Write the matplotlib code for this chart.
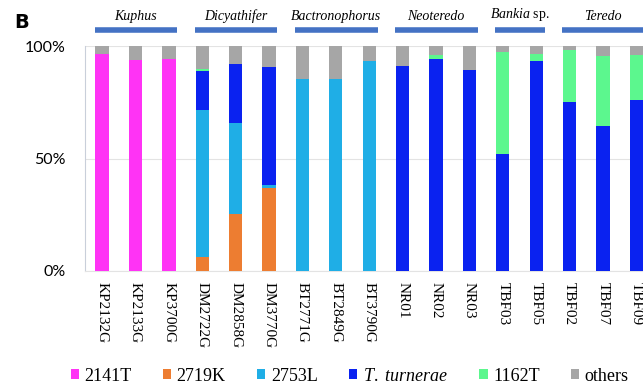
import numpy as np
import matplotlib
matplotlib.use("Agg")
import matplotlib.pyplot as plt
from matplotlib.patches import Patch

plt.rcParams["mathtext.fontset"] = "custom"
plt.rcParams["mathtext.rm"] = "Liberation Serif"
plt.rcParams["mathtext.it"] = "Liberation Serif:italic"

# Samples (x axis)
samples = ["KP2132G", "KP2133G", "KP3700G", "DM2722G", "DM2858G", "DM3770G",
           "BT2771G", "BT2849G", "BT3790G", "NR01", "NR02", "NR03",
           "TBF03", "TBF05", "TBF02", "TBF07", "TBF09"]

# Percent composition per sample
s2141T = [96.7, 93.8, 94.5, 0, 0, 0, 0, 0, 0, 0, 0, 0, 0, 0, 0, 0, 0]
s2719K = [0, 0, 0, 6.4, 25.3, 36.7, 0, 0, 0, 0, 0, 0, 0, 0, 0, 0, 0]
s2753L = [0, 0, 0, 65.2, 40.6, 1.5, 85.2, 85.2, 93.5, 0, 0, 0, 0, 0, 0, 0, 0]
turnerae = [0, 0, 0, 17.3, 26.0, 52.6, 0, 0, 0, 91.1, 94.1, 89.3, 52.0, 93.3, 75.0, 64.6, 76.0]
s1162T = [0, 0, 0, 1.0, 0, 0, 0, 0, 0, 0, 1.9, 0, 45.5, 3.4, 23.5, 30.9, 20.0]
others = [3.3, 6.2, 5.5, 10.1, 8.1, 9.2, 14.8, 14.8, 6.5, 8.9, 4.0, 10.7, 2.5, 3.3, 1.5, 4.5, 4.0]

series = [s2141T, s2719K, s2753L, turnerae, s1162T, others]
series_labels = ["2141T", "2719K", "2753L", r"$\mathit{T.\ turnerae}$", "1162T", "others"]
colors = ["#FF33F5", "#ED7D31", "#1FAEE6", "#0A22F0", "#5CF78E", "#A6A6A6"]

# Host genus groups: (label, first sample, last sample)
groups = [("Kuphus", 0, 2), ("Dicyathifer", 3, 5), ("Bactronophorus", 6, 8),
          ("Neoteredo", 9, 11), (r"$\mathit{Bankia}$ sp.", 12, 13), ("Teredo", 14, 16)]

fig = plt.figure(figsize=(6.43, 3.91), dpi=100)
ax = fig.add_axes([0.1327, 0.307, 0.883, 0.575])

x = np.arange(len(samples))
bottom = np.zeros(len(samples))
for vals, col, lab in zip(series, colors, series_labels):
    ax.bar(x, vals, width=0.4, bottom=bottom, color=col, label=lab, zorder=3)
    bottom += np.array(vals)

ax.set_xlim(-0.5, len(samples) - 0.5)
ax.set_ylim(0, 100)
ax.set_yticks([0, 50, 100])
ax.set_yticklabels(["0%", "50%", "100%"], fontsize=11.5, family="Lato")
ax.tick_params(axis="y", length=0, pad=14)
ax.set_xticks(x)
ax.set_xticklabels(samples, rotation=-90, fontsize=11, family="Liberation Serif")
ax.tick_params(axis="x", length=0, pad=8)

ax.grid(axis="y", color="#E3E3E3", linewidth=0.8, zorder=0)
for side in ["top", "right"]:
    ax.spines[side].set_visible(False)
ax.spines["left"].set_color("#C9CFDA")
ax.spines["bottom"].set_color("#E3E3E3")
ax.spines["left"].set_linewidth(0.8)

# Group brackets and names above the bars
for name, i0, i1 in groups:
    ax.plot([i0 - 0.22, i1 + 0.25], [107.1, 107.1], color="#4472C4", linewidth=4,
            solid_capstyle="butt", clip_on=False)
    style = "normal" if "$" in name else "italic"
    ax.text((i0 + i1) / 2, 110.5, name, ha="center", va="bottom", fontsize=10,
            family="Liberation Serif", style=style, clip_on=False)

fig.text(0.022, 0.968, "B", fontsize=14, fontweight="bold", family="DejaVu Sans",
         ha="left", va="top")

handles = [Patch(facecolor=c, edgecolor="none") for c in colors]
fig.legend(handles, series_labels, loc="center left", bbox_to_anchor=(0.11, 0.038),
           ncol=6, frameon=False, prop={"family": "Liberation Serif", "size": 13},
           handlelength=0.45, handleheight=0.45, handletextpad=0.3, columnspacing=1.75,
           borderpad=0, borderaxespad=0)

fig.savefig("out.png", dpi=100)
